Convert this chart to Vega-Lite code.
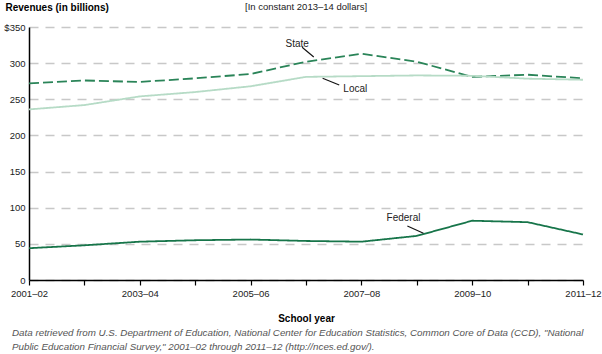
{
  "$schema": "https://vega.github.io/schema/vega-lite/v6.json",
  "autosize": "none",
  "width": 554,
  "height": 253,
  "padding": {"left": 29, "top": 27, "right": 19, "bottom": 74},
  "background": "#ffffff",
  "config": {
    "view": {"stroke": null},
    "font": "Liberation Sans",
    "axis": {"labelFont": "Liberation Sans", "titleFont": "Liberation Sans"},
    "axisX": {
      "titleFontWeight": "bold", "titleFontSize": 10, "titleColor": "#000000", "titlePadding": 16,
      "labelFontSize": 9.5, "labelColor": "#222222", "labelPadding": 3,
      "labelFlush": false, "labelOverlap": false,
      "domainColor": "#000000", "domainWidth": 1.5,
      "tickColor": "#000000", "tickWidth": 1.2, "tickSize": 5,
      "grid": false
    },
    "axisY": {
      "titleAngle": 0, "titleAlign": "left", "titleBaseline": "middle",
      "titleX": -24, "titleY": -20,
      "titleFontWeight": "bold", "titleFontSize": 10, "titleColor": "#000000",
      "labelFontSize": 9.5, "labelColor": "#222222", "labelPadding": 4, "labelOverlap": false,
      "ticks": false,
      "domainColor": "#000000", "domainWidth": 1.5,
      "grid": true, "gridColor": "#c8c8c8", "gridDash": [9, 7], "gridWidth": 1.3
    }
  },
  "title": {
    "text": ["Data retrieved from U.S. Department of Education, National Center for Education Statistics, Common Core of Data (CCD), \"National", "Public Education Financial Survey,\" 2001–02 through 2011–12 (http://nces.ed.gov/)."],
    "orient": "bottom",
    "anchor": "start",
    "frame": "group",
    "dx": -17,
    "offset": 4,
    "font": "Liberation Sans",
    "fontSize": 9.8,
    "fontStyle": "italic",
    "fontWeight": "normal",
    "color": "#555555",
    "lineHeight": 14
  },
  "layer": [
    {
      "data": {"values": [
        {"year": 2001, "value": 272, "series": "State"},
        {"year": 2002, "value": 276, "series": "State"},
        {"year": 2003, "value": 274, "series": "State"},
        {"year": 2004, "value": 279, "series": "State"},
        {"year": 2005, "value": 285, "series": "State"},
        {"year": 2006, "value": 302, "series": "State"},
        {"year": 2007, "value": 313, "series": "State"},
        {"year": 2008, "value": 302, "series": "State"},
        {"year": 2009, "value": 281, "series": "State"},
        {"year": 2010, "value": 284, "series": "State"},
        {"year": 2011, "value": 279, "series": "State"},
        {"year": 2001, "value": 236, "series": "Local"},
        {"year": 2002, "value": 242, "series": "Local"},
        {"year": 2003, "value": 254, "series": "Local"},
        {"year": 2004, "value": 260, "series": "Local"},
        {"year": 2005, "value": 268, "series": "Local"},
        {"year": 2006, "value": 281, "series": "Local"},
        {"year": 2007, "value": 282, "series": "Local"},
        {"year": 2008, "value": 283, "series": "Local"},
        {"year": 2009, "value": 282.5, "series": "Local"},
        {"year": 2010, "value": 278.5, "series": "Local"},
        {"year": 2011, "value": 277, "series": "Local"},
        {"year": 2001, "value": 44, "series": "Federal"},
        {"year": 2002, "value": 48, "series": "Federal"},
        {"year": 2003, "value": 53, "series": "Federal"},
        {"year": 2004, "value": 55, "series": "Federal"},
        {"year": 2005, "value": 56, "series": "Federal"},
        {"year": 2006, "value": 54, "series": "Federal"},
        {"year": 2007, "value": 53, "series": "Federal"},
        {"year": 2008, "value": 61, "series": "Federal"},
        {"year": 2009, "value": 82, "series": "Federal"},
        {"year": 2010, "value": 80, "series": "Federal"},
        {"year": 2011, "value": 63, "series": "Federal"}
      ]},
      "mark": {"type": "line", "interpolate": "linear", "strokeWidth": 1.8},
      "encoding": {
        "x": {
          "field": "year", "type": "quantitative",
          "scale": {"domain": [2001, 2011], "nice": false, "zero": false},
          "axis": {
            "title": "School year",
            "values": [2001, 2002, 2003, 2004, 2005, 2006, 2007, 2008, 2009, 2010, 2011],
            "labelExpr": "datum.value % 2 == 1 ? toString(datum.value) + '–' + substring(toString(datum.value + 1), 2, 4) : ''"
          }
        },
        "y": {
          "field": "value", "type": "quantitative",
          "scale": {"domain": [0, 350], "nice": false},
          "axis": {
            "title": "Revenues (in billions)",
            "values": [0, 50, 100, 150, 200, 250, 300, 350],
            "labelExpr": "datum.value == 350 ? '$350' : datum.label"
          }
        },
        "color": {
          "field": "series", "type": "nominal",
          "scale": {"domain": ["State", "Local", "Federal"], "range": ["#2a8458", "#b6dbc6", "#17754a"]},
          "legend": null
        },
        "strokeDash": {
          "field": "series", "type": "nominal",
          "scale": {"domain": ["State", "Local", "Federal"], "range": [[10, 4], [1, 0], [1, 0]]},
          "legend": null
        }
      }
    },
    {
      "data": {"values": [
        {"year": 2005.93, "value": 322, "year2": 2006.14, "value2": 308.5},
        {"year": 2006.30, "value": 279, "year2": 2006.60, "value2": 269.7},
        {"year": 2007.83, "value": 74.7, "year2": 2008.12, "value2": 64.6}
      ]},
      "mark": {"type": "rule", "color": "#111111", "strokeWidth": 1.1},
      "encoding": {
        "x": {"field": "year", "type": "quantitative", "axis": {"title": "School year", "values": [2001, 2002, 2003, 2004, 2005, 2006, 2007, 2008, 2009, 2010, 2011], "labelExpr": "datum.value % 2 == 1 ? toString(datum.value) + '–' + substring(toString(datum.value + 1), 2, 4) : ''"}},
        "y": {"field": "value", "type": "quantitative", "axis": {"title": "Revenues (in billions)", "values": [0, 50, 100, 150, 200, 250, 300, 350], "labelExpr": "datum.value == 350 ? '$350' : datum.label"}},
        "x2": {"field": "year2"},
        "y2": {"field": "value2"}
      }
    },
    {
      "data": {"values": [
        {"year": 2005.84, "value": 326.5, "label": "State"},
        {"year": 2006.89, "value": 264.2, "label": "Local"},
        {"year": 2007.76, "value": 85.3, "label": "Federal"}
      ]},
      "mark": {"type": "text", "fontSize": 10, "color": "#222222", "align": "center", "baseline": "middle", "font": "Liberation Sans"},
      "encoding": {
        "x": {"field": "year", "type": "quantitative", "axis": {"title": "School year", "values": [2001, 2002, 2003, 2004, 2005, 2006, 2007, 2008, 2009, 2010, 2011], "labelExpr": "datum.value % 2 == 1 ? toString(datum.value) + '–' + substring(toString(datum.value + 1), 2, 4) : ''"}},
        "y": {"field": "value", "type": "quantitative", "axis": {"title": "Revenues (in billions)", "values": [0, 50, 100, 150, 200, 250, 300, 350], "labelExpr": "datum.value == 350 ? '$350' : datum.label"}},
        "text": {"field": "label"}
      }
    },
    {
      "data": {"values": [
        {"year": 2004.9, "value": 377.5, "label": "[In constant 2013–14 dollars]"}
      ]},
      "mark": {"type": "text", "fontSize": 9.5, "color": "#222222", "align": "left", "baseline": "middle", "font": "Liberation Sans"},
      "encoding": {
        "x": {"field": "year", "type": "quantitative", "axis": {"title": "School year", "values": [2001, 2002, 2003, 2004, 2005, 2006, 2007, 2008, 2009, 2010, 2011], "labelExpr": "datum.value % 2 == 1 ? toString(datum.value) + '–' + substring(toString(datum.value + 1), 2, 4) : ''"}},
        "y": {"field": "value", "type": "quantitative", "axis": {"title": "Revenues (in billions)", "values": [0, 50, 100, 150, 200, 250, 300, 350], "labelExpr": "datum.value == 350 ? '$350' : datum.label"}},
        "text": {"field": "label"}
      }
    }
  ]
}
